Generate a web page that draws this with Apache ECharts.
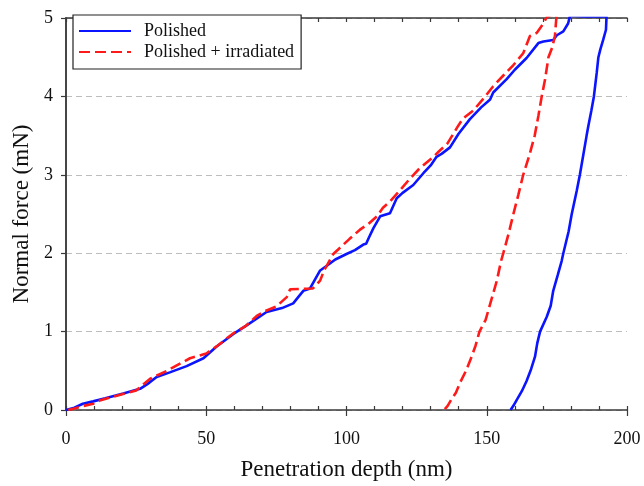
<!DOCTYPE html>
<html>
<head>
<meta charset="utf-8">
<script src="https://cdn.jsdelivr.net/npm/echarts@6/dist/echarts.min.js"></script>
<style>html,body{margin:0;padding:0;background:#fff}#c{width:644px;height:486px}</style>
</head>
<body>
<div id="c"></div>
<script>
// Polished: loading then unloading
var polishedDepth = [0,3,6,9.7,14,20.4,26.4,29,32.3,37,43,49,53.7,59.7,64.4,71.5,77,81,83,84.6,87,89,90.6,93,96,100,103,106,107,108,109.6,112,115.5,117.9,120,123.8,127.4,130,132.1,134,136.9,139.9,144,148,151.2,152.3,157.1,160,164.2,168.4,170.2,173.7,175,177.3,179,179.7,185,192.7,
  193.3,192.5,191.5,190.5,189.8,189.2,188.2,187.3,186.2,185.6,184.4,183.2,182.1,180.3,179.2,177.3,176.7,175.3,173.7,172.8,171.4,169,168,167.2,165.8,164.2,162.5,160.7,159.6,158.5];
var polishedForce = [0,0.03,0.08,0.11,0.15,0.21,0.27,0.33,0.42,0.48,0.56,0.66,0.81,0.97,1.08,1.25,1.3,1.36,1.45,1.52,1.55,1.68,1.78,1.84,1.92,1.99,2.04,2.11,2.12,2.2,2.32,2.47,2.51,2.70,2.77,2.87,3.02,3.12,3.23,3.27,3.35,3.52,3.71,3.86,3.96,4.05,4.22,4.34,4.49,4.68,4.70,4.72,4.78,4.83,4.93,5.03,5.02,5.02,
  5.02,4.85,4.72,4.6,4.5,4.3,4.0,3.82,3.62,3.5,3.25,3.0,2.8,2.5,2.28,2.0,1.9,1.72,1.52,1.33,1.19,1.0,0.85,0.68,0.52,0.37,0.24,0.13,0.06,0];
// Polished + irradiated
var irradDepth = [0.8,3,6,9.7,12,15.7,20,25,30,36,44.2,50,54,59.7,64,68,71.5,75,78.7,79.9,88,90.6,92,95.3,97.7,101,104.8,108,110.8,113,115.5,119,122.6,126,131,133,136,139.9,141.6,145.2,149,152.3,156,159.5,163,165.4,167.8,170.2,171.4,173,174.9,
  174.3,173.3,172,170.8,169.6,168.4,167.1,165.2,163,161.3,159.5,157.8,155.9,155.1,153.6,151.2,149.6,147.4,146,144.6,142.6,140.5,139,137.5,136,134.8];
var irradForce = [0,0.02,0.05,0.08,0.12,0.16,0.2,0.25,0.4,0.5,0.66,0.72,0.82,0.98,1.07,1.2,1.27,1.32,1.44,1.54,1.55,1.65,1.78,1.99,2.07,2.18,2.30,2.38,2.47,2.58,2.66,2.8,2.95,3.08,3.23,3.3,3.4,3.63,3.72,3.82,3.98,4.13,4.27,4.4,4.55,4.77,4.81,4.93,5.01,5.04,5.04,
  4.77,4.62,4.5,4.22,4.0,3.75,3.5,3.25,3.0,2.75,2.5,2.25,2.0,1.9,1.65,1.35,1.15,1.0,0.82,0.68,0.5,0.35,0.22,0.14,0.05,0];
var seriesNames = ['Polished', 'Polished + irradiated'];
var xTicks = {min: 0, max: 200, major: 50, minor: 10};
var yTicks = {min: 0, max: 5, step: 1};

function zip(a, b) { return a.map(function (v, i) { return [v, b[i]]; }); }

var FONT = '"Liberation Serif", "Times New Roman", serif';
var AX = '#3a3a3a';
var chart = echarts.init(document.getElementById('c'), null, {renderer: 'canvas'});
chart.setOption({
  animation: false,
  backgroundColor: '#fff',
  grid: {left: 66, right: 17, top: 18, bottom: 72},
  legend: {
    orient: 'vertical', left: 73, top: 15,
    data: seriesNames,
    backgroundColor: '#fff', borderColor: '#222', borderWidth: 1.2,
    padding: [7, 7, 8, 5],
    itemWidth: 52, itemHeight: 14, itemGap: 3,
    itemStyle: {color: 'rgba(0,0,0,0)', borderColor: 'rgba(0,0,0,0)', borderWidth: 0, opacity: 0},
    textStyle: {fontFamily: FONT, fontSize: 18, color: '#111', padding: [0, 0, 0, 8]}
  },
  xAxis: [
    {type: 'value', position: 'bottom', min: xTicks.min, max: xTicks.max, interval: xTicks.major,
     name: 'Penetration depth (nm)', nameLocation: 'middle', nameGap: 48,
     nameTextStyle: {fontFamily: FONT, fontSize: 23, color: '#111'},
     axisLine: {show: true, lineStyle: {color: AX, width: 1.5}},
     axisTick: {show: true, inside: false, length: 6, lineStyle: {color: AX, width: 1.2}},
     axisLabel: {fontFamily: FONT, fontSize: 18, color: '#111', margin: 20},
     splitLine: {show: false}},
    {type: 'value', position: 'bottom', min: xTicks.min, max: xTicks.max, interval: xTicks.minor,
     axisLine: {show: false}, axisLabel: {show: false},
     axisTick: {show: true, inside: true, length: 4, lineStyle: {color: AX, width: 1.2}},
     splitLine: {show: false}},
    {type: 'value', position: 'top', min: xTicks.min, max: xTicks.max, interval: xTicks.minor,
     axisLine: {show: true, lineStyle: {color: AX, width: 1.5}}, axisLabel: {show: false},
     axisTick: {show: true, inside: true, length: 4, lineStyle: {color: AX, width: 1.2}},
     splitLine: {show: false}}
  ],
  yAxis: [
    {type: 'value', position: 'left', min: yTicks.min, max: yTicks.max, interval: yTicks.step,
     name: 'Normal force (mN)', nameLocation: 'middle', nameGap: 33,
     nameTextStyle: {fontFamily: FONT, fontSize: 23, color: '#111'},
     axisLine: {show: true, lineStyle: {color: AX, width: 1.5}},
     axisTick: {show: true, inside: false, length: 5, lineStyle: {color: AX, width: 1.2}},
     axisLabel: {fontFamily: FONT, fontSize: 18, color: '#111', margin: 13},
     splitLine: {show: true, lineStyle: {color: '#bdbdbd', width: 1, type: [6, 4]}}},
    {type: 'value', position: 'right', min: yTicks.min, max: yTicks.max, interval: yTicks.step,
     axisLine: {show: true, lineStyle: {color: AX, width: 1.5}},
     axisTick: {show: false}, axisLabel: {show: false}, splitLine: {show: false}}
  ],
  series: [
    {name: seriesNames[0], type: 'line', xAxisIndex: 0, yAxisIndex: 0, data: zip(polishedDepth, polishedForce),
     symbol: 'none', smooth: false, z: 3,
     lineStyle: {color: '#0a14ff', width: 2.6}, itemStyle: {color: '#0a14ff'}},
    {name: seriesNames[1], type: 'line', xAxisIndex: 0, yAxisIndex: 0, data: zip(irradDepth, irradForce),
     symbol: 'none', smooth: false, z: 4,
     lineStyle: {color: '#ff1a1a', width: 2.6, type: [11, 5]}, itemStyle: {color: '#ff1a1a'}}
  ]
});
</script>
</body>
</html>
